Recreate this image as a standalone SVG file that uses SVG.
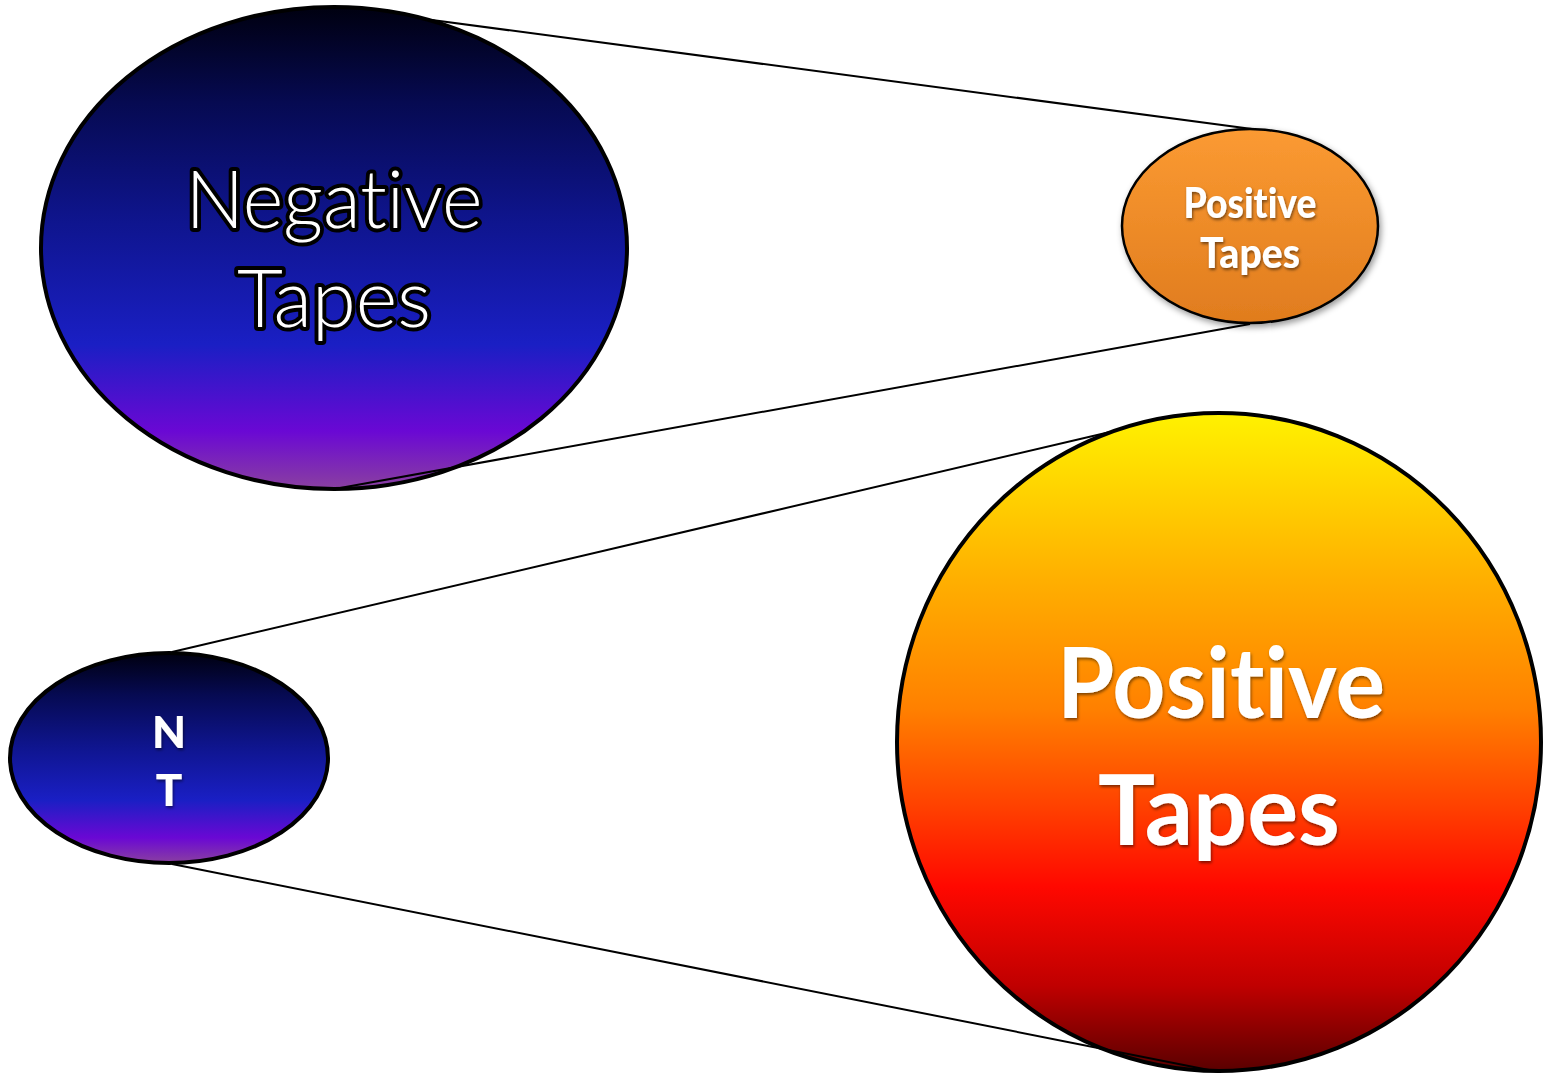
<svg xmlns="http://www.w3.org/2000/svg" width="1545" height="1076" viewBox="0 0 1545 1076">
<defs>
<linearGradient id="gNeg" x1="0" y1="0" x2="0" y2="1">
<stop offset="0" stop-color="#000010"/>
<stop offset="0.2" stop-color="#060a52"/>
<stop offset="0.45" stop-color="#0f158f"/>
<stop offset="0.7" stop-color="#1a1fc4"/>
<stop offset="0.88" stop-color="#6a08d4"/>
<stop offset="1" stop-color="#8a40a0"/>
</linearGradient>
<linearGradient id="gOr" x1="0" y1="0" x2="0" y2="1">
<stop offset="0" stop-color="#fb9a32"/>
<stop offset="1" stop-color="#e07c1e"/>
</linearGradient>
<linearGradient id="gPos" x1="0" y1="0" x2="0" y2="1">
<stop offset="0" stop-color="#fff200"/>
<stop offset="0.25" stop-color="#ffb000"/>
<stop offset="0.45" stop-color="#ff8000"/>
<stop offset="0.6" stop-color="#ff4000"/>
<stop offset="0.72" stop-color="#ff0800"/>
<stop offset="0.87" stop-color="#c00000"/>
<stop offset="1" stop-color="#5a0000"/>
</linearGradient>
<filter id="sh" x="-20%" y="-20%" width="140%" height="140%">
<feDropShadow dx="2" dy="3" stdDeviation="3" flood-color="#000" flood-opacity="0.4"/>
</filter>
<filter id="tsh" x="-10%" y="-20%" width="120%" height="140%">
<feDropShadow dx="1" dy="2" stdDeviation="1.5" flood-color="#000" flood-opacity="0.5"/>
</filter>
</defs>
<style>
text{font-variant-ligatures:none;font-feature-settings:"liga" 0,"clig" 0}
.node{stroke:#000;stroke-width:4}
.conn{stroke:#000;stroke-width:2;fill:none}
.neg{font-family:Lato,"Open Sans",sans-serif;font-weight:300;fill:#fff;stroke:#000;stroke-width:8;paint-order:stroke;stroke-linejoin:round;text-anchor:middle}
.pos{font-family:Lato,"Open Sans",sans-serif;font-weight:bold;fill:#fff;text-anchor:middle}
.heavy{font-weight:900}
</style>
<rect width="1545" height="1076" fill="#fff"/>
<g id="node-negative">
<ellipse class="node" cx="334" cy="248" rx="293" ry="241" fill="url(#gNeg)"/>
<text class="neg" x="334" y="228" font-size="80" textLength="297" lengthAdjust="spacingAndGlyphs">Negative</text>
<text class="neg" x="334" y="327" font-size="80" textLength="194" lengthAdjust="spacingAndGlyphs">Tapes</text>
</g>
<g id="node-positive-small" filter="url(#sh)">
<ellipse cx="1250" cy="226" rx="128" ry="97" fill="url(#gOr)" stroke="#000" stroke-width="2.5"/>
<text class="pos heavy" x="1250" y="218" font-size="42" textLength="133" lengthAdjust="spacingAndGlyphs" filter="url(#tsh)">Positive</text>
<text class="pos heavy" x="1250" y="268" font-size="42" textLength="100" lengthAdjust="spacingAndGlyphs" filter="url(#tsh)">Tapes</text>
</g>
<g id="node-nt">
<ellipse class="node" cx="169" cy="758" rx="159" ry="105" fill="url(#gNeg)"/>
<text class="pos heavy" x="169" y="748" font-size="44" filter="url(#tsh)">N</text>
<text class="pos heavy" x="169" y="806" font-size="44" filter="url(#tsh)">T</text>
</g>
<g id="node-positive-big">
<ellipse class="node" cx="1219" cy="742" rx="322" ry="329" fill="url(#gPos)"/>
<text class="pos" x="1221" y="718" font-size="98" textLength="328" lengthAdjust="spacingAndGlyphs" filter="url(#tsh)">Positive</text>
<text class="pos" x="1219" y="845" font-size="98" textLength="242" lengthAdjust="spacingAndGlyphs" filter="url(#tsh)">Tapes</text>
</g>
<g id="connectors">
<line class="conn" x1="432" y1="20" x2="1252" y2="129"/>
<line class="conn" x1="340" y1="488" x2="1250" y2="324"/>
<line class="conn" x1="172" y1="652" x2="1110" y2="432"/>
<line class="conn" x1="172" y1="864" x2="1219" y2="1072"/>
</g>
</svg>
